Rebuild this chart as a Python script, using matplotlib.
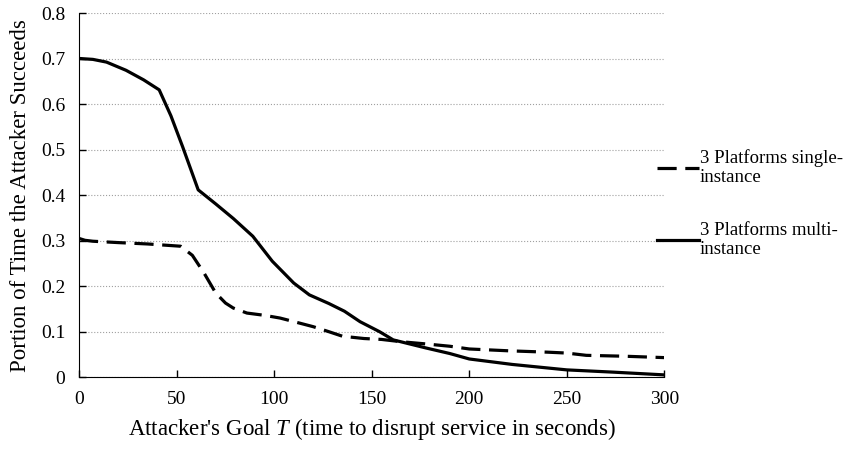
import matplotlib.pyplot as plt

plt.rcParams["font.family"] = ["Liberation Serif", "DejaVu Serif"]
plt.rcParams["mathtext.fontset"] = "custom"
plt.rcParams["mathtext.it"] = "Liberation Serif:italic"
plt.rcParams["mathtext.rm"] = "Liberation Serif"

# 3 Platforms single-instance (dashed)
single_x = [0, 3, 7, 20, 35, 52, 58, 64, 70, 75, 79, 86, 95, 103, 112, 120,
            128, 135, 146, 155, 165, 178, 190, 200, 220, 240, 250, 260, 280, 300]
single_y = [0.305, 0.301, 0.299, 0.296, 0.293, 0.288, 0.268, 0.229, 0.185,
            0.163, 0.152, 0.141, 0.136, 0.130, 0.120, 0.111, 0.100, 0.090,
            0.085, 0.083, 0.078, 0.073, 0.068, 0.062, 0.058, 0.055, 0.053,
            0.048, 0.046, 0.043]

# 3 Platforms multi-instance (solid)
multi_x = [0, 7, 14, 24, 33, 41, 47, 53, 61, 70, 79, 89, 99, 110, 118, 128,
           136, 144, 154, 161, 178, 190, 200, 222, 250, 274, 300]
multi_y = [0.701, 0.699, 0.693, 0.675, 0.654, 0.632, 0.575, 0.507, 0.412,
           0.381, 0.349, 0.310, 0.255, 0.207, 0.181, 0.162, 0.145, 0.122,
           0.100, 0.082, 0.064, 0.052, 0.040, 0.028, 0.016, 0.011, 0.005]

x_ticks = [0, 50, 100, 150, 200, 250, 300]
y_ticks = [0, 0.1, 0.2, 0.3, 0.4, 0.5, 0.6, 0.7, 0.8]

fig = plt.figure(figsize=(8.43, 4.49), dpi=100)
ax = fig.add_axes([0.094, 0.16, 0.694, 0.81])

ax.plot(single_x, single_y, color="black", linewidth=2.3, dashes=(6, 2.7),
        label="3 Platforms single-\ninstance")
ax.plot(multi_x, multi_y, color="black", linewidth=2.3,
        label="3 Platforms multi-\ninstance")

ax.set_xlim(0, 300)
ax.set_ylim(0, 0.8)
ax.set_xticks(x_ticks)
ax.set_yticks(y_ticks)
ax.set_yticklabels(["0"] + ["%.1f" % v for v in y_ticks[1:]])
ax.yaxis.grid(True, linestyle=":", color="#a0a0a0", linewidth=0.8)
ax.set_axisbelow(True)
ax.spines["top"].set_visible(False)
ax.spines["right"].set_visible(False)
ax.tick_params(direction="in", length=5, width=1, labelsize=14)
ax.tick_params(axis="y", pad=10)
ax.tick_params(axis="x", pad=10)

ax.set_xlabel("Attacker's Goal $T$ (time to disrupt service in seconds)",
              fontsize=16.5, labelpad=6)
ax.set_ylabel("Portion of Time the Attacker Succeeds", fontsize=16.5, labelpad=7)

leg = fig.legend(loc="upper left", bbox_to_anchor=(0.759, 0.705), frameon=False,
                 fontsize=13.5, handlelength=2.25, handletextpad=0.05,
                 labelspacing=1.9)
for t in leg.get_texts():
    t.set_linespacing(1.15)

plt.savefig("out.png")
